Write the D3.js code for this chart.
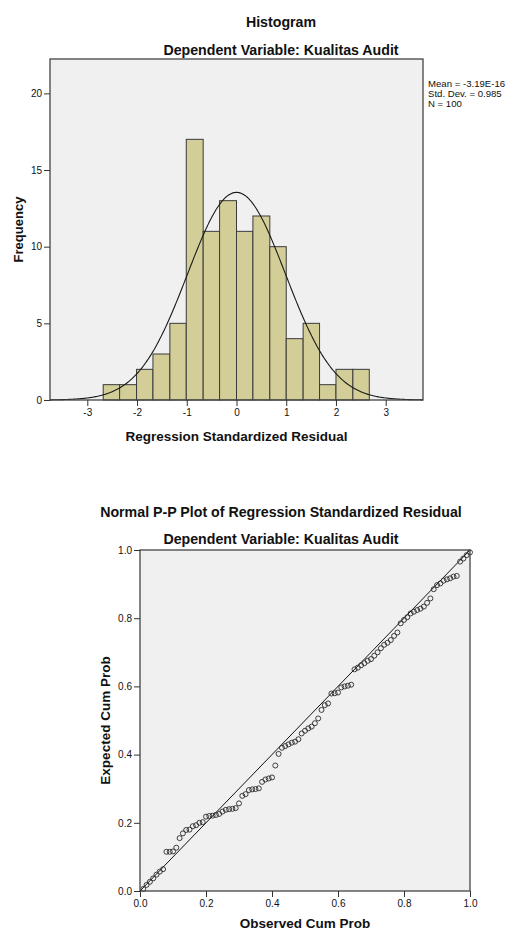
<!DOCTYPE html>
<html><head><meta charset="utf-8">
<script src="https://cdn.jsdelivr.net/npm/d3@7/dist/d3.min.js"></script>
<style>
html,body{margin:0;padding:0;background:#fff;}
svg{display:block;}
text{font-family:"Liberation Sans",Arial,sans-serif;fill:#111;}
</style></head><body>
<svg id="c" width="506" height="931"></svg>
<script>
// ---------- data ----------
const histTitle = "Histogram";
const subTitle = "Dependent Variable: Kualitas Audit";
const histXLabel = "Regression Standardized Residual";
const histYLabel = "Frequency";
const binEdges = [-2.68,-2.35,-2.01,-1.68,-1.34,-1.01,-0.67,-0.34,0.00,0.33,0.67,1.00,1.34,1.67,2.00,2.34,2.67];
const binCounts = [1,1,2,3,5,17,11,13,11,12,10,4,5,1,2,2];
const statMean = -3.19e-16;
const statSD = 0.985;
const statN = 100;
const statLabels = ["Mean = -3.19E-16","Std. Dev. = 0.985","N = 100"];
const histXDomain = [-3.75, 3.75];
const histYDomain = [0, 22.24];
const histXTicks = [-3,-2,-1,0,1,2,3];
const histYTicks = [0,5,10,15,20];

const ppTitle = "Normal P-P Plot of Regression Standardized Residual";
const ppXLabel = "Observed Cum Prob";
const ppYLabel = "Expected Cum Prob";
const ppObserved = [0.01,0.02,0.03,0.04,0.05,0.06,0.07,0.08,0.09,0.10,
 0.11,0.12,0.13,0.14,0.15,0.16,0.17,0.18,0.19,0.20,
 0.21,0.22,0.23,0.24,0.25,0.26,0.27,0.28,0.29,0.30,
 0.31,0.32,0.33,0.34,0.35,0.36,0.37,0.38,0.39,0.40,
 0.41,0.42,0.43,0.44,0.45,0.46,0.47,0.48,0.49,0.50,
 0.51,0.52,0.53,0.54,0.55,0.56,0.57,0.58,0.59,0.60,
 0.61,0.62,0.63,0.64,0.65,0.66,0.67,0.68,0.69,0.70,
 0.71,0.72,0.73,0.74,0.75,0.76,0.77,0.78,0.79,0.80,
 0.81,0.82,0.83,0.84,0.85,0.86,0.87,0.88,0.89,0.90,
 0.91,0.92,0.93,0.94,0.95,0.96,0.97,0.98,0.99,1.00];
const ppExpected = [0.006,0.018,0.027,0.037,0.048,0.057,0.064,0.115,0.115,0.116,
 0.127,0.155,0.169,0.179,0.180,0.190,0.193,0.200,0.202,0.218,
 0.220,0.221,0.223,0.226,0.233,0.238,0.240,0.241,0.243,0.257,
 0.279,0.284,0.296,0.298,0.299,0.301,0.320,0.327,0.330,0.333,
 0.368,0.402,0.420,0.425,0.430,0.435,0.438,0.445,0.462,0.470,
 0.477,0.482,0.492,0.506,0.531,0.545,0.550,0.579,0.580,0.582,
 0.597,0.600,0.602,0.605,0.650,0.655,0.662,0.668,0.675,0.680,
 0.690,0.700,0.712,0.722,0.728,0.736,0.748,0.758,0.785,0.795,
 0.803,0.814,0.819,0.824,0.828,0.834,0.845,0.858,0.885,0.897,
 0.902,0.910,0.914,0.917,0.922,0.924,0.966,0.975,0.985,0.993];
const ppTicks = [0,0.2,0.4,0.6,0.8,1.0];

// ---------- drawing ----------
const svg = d3.select("#c");
const frameCol = "#444";
const bg = "#f0f0f0";
const hyphen = f => d => f(d).replace("\u2212","-");

function styleAxis(g){
  g.select(".domain").remove();
  g.selectAll(".tick line").attr("stroke","#333").attr("stroke-width",1);
  g.selectAll(".tick text").style("font-size","10px").attr("fill","#222")
   .style("font-family","'Liberation Sans',Arial,sans-serif");
}

// ===== Histogram =====
const H = {l:50, r:423, t:59, b:400};
const hx = d3.scaleLinear().domain(histXDomain).range([H.l, H.r]);
const hy = d3.scaleLinear().domain(histYDomain).range([H.b, H.t]);

svg.append("text").attr("x",281).attr("y",26.5).attr("text-anchor","middle")
  .style("font-size","14.2px").style("font-weight","bold").text(histTitle);
svg.append("text").attr("x",281).attr("y",54.5).attr("text-anchor","middle")
  .style("font-size","14.2px").style("font-weight","bold").text(subTitle);

svg.append("rect").attr("x",H.l).attr("y",H.t).attr("width",H.r-H.l).attr("height",H.b-H.t).attr("fill",bg);

const bins = binCounts.map((c,i)=>({x0:binEdges[i], x1:binEdges[i+1], c}));
svg.append("g").selectAll("rect").data(bins).join("rect")
  .attr("x",d=>hx(d.x0)).attr("width",d=>hx(d.x1)-hx(d.x0))
  .attr("y",d=>hy(d.c)).attr("height",d=>hy(0)-hy(d.c))
  .attr("fill","#d3ce97").attr("stroke","#3a3a3a").attr("stroke-width",1);

// fitted normal curve
const avgW = (binEdges[binEdges.length-1]-binEdges[0])/binCounts.length;
const curveX = d3.range(histXDomain[0], histXDomain[1]+0.001, 0.02);
const pdf = x => Math.exp(-0.5*((x-statMean)/statSD)**2)/(statSD*Math.sqrt(2*Math.PI));
svg.append("path").datum(curveX)
  .attr("d", d3.line().x(d=>hx(d)).y(d=>hy(statN*avgW*pdf(d))))
  .attr("fill","none").attr("stroke","#1a1a1a").attr("stroke-width",1.1);

svg.append("rect").attr("x",H.l).attr("y",H.t).attr("width",H.r-H.l).attr("height",H.b-H.t)
  .attr("fill","none").attr("stroke",frameCol).attr("stroke-width",1.3);

svg.append("g").attr("transform",`translate(${H.l},0)`)
  .call(d3.axisLeft(hy).tickValues(histYTicks).tickFormat(hyphen(d3.format("d"))).tickSize(6).tickPadding(2)).call(styleAxis);
svg.append("g").attr("transform",`translate(0,${H.b})`)
  .call(d3.axisBottom(hx).tickValues(histXTicks).tickFormat(hyphen(d3.format("d"))).tickSize(6).tickPadding(3)).call(styleAxis);

svg.append("text").attr("x",(H.l+H.r)/2).attr("y",441).attr("text-anchor","middle")
  .style("font-size","13.5px").style("font-weight","bold").text(histXLabel);
svg.append("text").attr("transform",`translate(23,${(H.t+H.b)/2}) rotate(-90)`).attr("text-anchor","middle")
  .style("font-size","13px").style("font-weight","bold").text(histYLabel);

svg.append("g").selectAll("text").data(statLabels).join("text")
  .attr("x",428).attr("y",(d,i)=>87+i*10).style("font-size","9.6px").attr("fill","#222").text(d=>d);

// ===== P-P plot =====
const P = {l:140, r:470, t:550, b:891};
const px = d3.scaleLinear().domain([0,1]).range([P.l, P.r]);
const py = d3.scaleLinear().domain([0,1]).range([P.b, P.t]);

svg.append("text").attr("x",281).attr("y",517).attr("text-anchor","middle")
  .style("font-size","14.2px").style("font-weight","bold").text(ppTitle);
svg.append("text").attr("x",281).attr("y",544).attr("text-anchor","middle")
  .style("font-size","14.2px").style("font-weight","bold").text(subTitle);

svg.append("rect").attr("x",P.l).attr("y",P.t).attr("width",P.r-P.l).attr("height",P.b-P.t).attr("fill",bg);

svg.append("line").attr("x1",px(0)).attr("y1",py(0)).attr("x2",px(1)).attr("y2",py(1))
  .attr("stroke","#111").attr("stroke-width",1);

svg.append("g").selectAll("circle").data(ppObserved.map((o,i)=>[o,ppExpected[i]])).join("circle")
  .attr("cx",d=>px(d[0])).attr("cy",d=>py(d[1])).attr("r",2.5)
  .attr("fill","none").attr("stroke","#2a2a2a").attr("stroke-width",0.9);

svg.append("rect").attr("x",P.l).attr("y",P.t).attr("width",P.r-P.l).attr("height",P.b-P.t)
  .attr("fill","none").attr("stroke",frameCol).attr("stroke-width",1.3);

svg.append("g").attr("transform",`translate(${P.l},0)`)
  .call(d3.axisLeft(py).tickValues(ppTicks).tickFormat(d3.format(".1f")).tickSize(6).tickPadding(2)).call(styleAxis);
svg.append("g").attr("transform",`translate(0,${P.b})`)
  .call(d3.axisBottom(px).tickValues(ppTicks).tickFormat(d3.format(".1f")).tickSize(6).tickPadding(3)).call(styleAxis);

svg.append("text").attr("x",(P.l+P.r)/2).attr("y",928).attr("text-anchor","middle")
  .style("font-size","13.5px").style("font-weight","bold").text(ppXLabel);
svg.append("text").attr("transform",`translate(110,${(P.t+P.b)/2}) rotate(-90)`).attr("text-anchor","middle")
  .style("font-size","13.5px").style("font-weight","bold").text(ppYLabel);
</script>
</body></html>
